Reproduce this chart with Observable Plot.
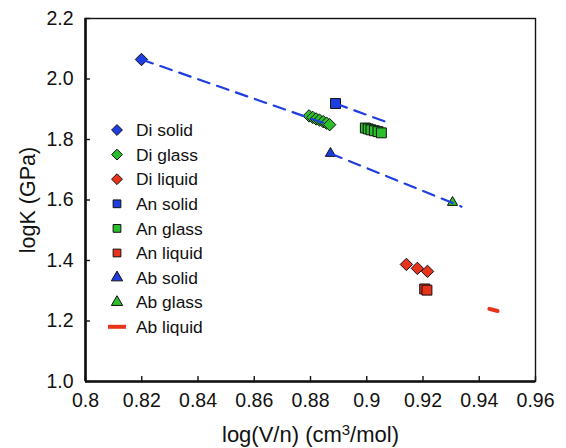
<!DOCTYPE html>
<html>
<head>
<meta charset="utf-8">
<script src="https://cdn.jsdelivr.net/npm/d3@7"></script>
<script src="https://cdn.jsdelivr.net/npm/@observablehq/plot@0.6"></script>
<style>
  body { margin: 0; background: #fff; }
  #chart { position: relative; width: 566px; height: 448px; font-family: "Liberation Sans", Arial, sans-serif; }
  #legend { position: absolute; left: 0; top: 0; pointer-events: none; }
</style>
</head>
<body>
<div id="chart"></div>
<script>
// Bulk modulus vs. molar volume, log–log, for diopside (Di), anorthite (An) and albite (Ab)
const diSolid  = [[0.8199, 2.0645]];
const diGlass  = [[0.8795, 1.878], [0.8808, 1.873], [0.8820, 1.868], [0.8832, 1.864], [0.8845, 1.859], [0.8857, 1.854], [0.8868, 1.849]];
const diLiquid = [[0.9141, 1.387], [0.9180, 1.374], [0.9216, 1.364]];
const anSolid  = [[0.8889, 1.919]];
const anGlass  = [[0.8995, 1.838], [0.9005, 1.835], [0.9015, 1.832], [0.9027, 1.829], [0.9040, 1.826], [0.9052, 1.822]];
const anLiquid = [[0.9206, 1.306], [0.9214, 1.302]];
const abSolid  = [[0.8871, 1.754]];
const abGlass  = [[0.9305, 1.592]];
const abLiquid = [[0.9436, 1.240], [0.9465, 1.233]];

// Dashed trend lines (solid → glass) for each composition
const diTrend = [[0.8199, 2.0645], [0.8870, 1.847]];
const anTrend = [[0.8889, 1.919], [0.9075, 1.856]];
const abTrend = [[0.8871, 1.754], [0.9337, 1.578]];

const xTicks = [0.8, 0.82, 0.84, 0.86, 0.88, 0.9, 0.92, 0.94, 0.96];
const yTicks = [1.0, 1.2, 1.4, 1.6, 1.8, 2.0, 2.2];
const xDomain = [0.8, 0.96];
const yDomain = [1.0, 2.2];
const xTitle = ["log(V/n) (cm", "3", "/mol)"]; // middle part is a superscript
const yTitle = "logK (GPa)";

const BLUE = "#1f3ee0", GREEN = "#2cbf2c", RED = "#e8321a";

const series = [
  { name: "Di solid",  data: diSolid,  symbol: "diamond2", fill: BLUE },
  { name: "Di glass",  data: diGlass,  symbol: "diamond2", fill: GREEN },
  { name: "Di liquid", data: diLiquid, symbol: "diamond2", fill: RED },
  { name: "An solid",  data: anSolid,  symbol: "square",   fill: BLUE },
  { name: "An glass",  data: anGlass,  symbol: "square",   fill: GREEN },
  { name: "An liquid", data: anLiquid, symbol: "square",   fill: RED },
  { name: "Ab solid",  data: abSolid,  symbol: "triangle", fill: BLUE },
  { name: "Ab glass",  data: abGlass,  symbol: "triangle", fill: GREEN },
  { name: "Ab liquid", data: abLiquid, symbol: "line",     fill: RED }
];

const markerRadius = { diamond2: 5.6, square: 5.6, triangle: 3.8 };

const pointMarks = series.filter(s => s.symbol !== "line").map(s =>
  Plot.dot(s.data, {
    x: d => d[0], y: d => d[1],
    symbol: () => s.symbol,
    r: markerRadius[s.symbol],
    fill: s.fill, stroke: "#111", strokeWidth: 1
  })
);

const trendMarks = [diTrend, anTrend, abTrend].map(t =>
  Plot.line(t, { x: d => d[0], y: d => d[1], stroke: BLUE, strokeWidth: 2.2, strokeDasharray: "12,8" })
);

const plot = Plot.plot({
  width: 566,
  height: 448,
  marginLeft: 85,
  marginRight: 31,
  marginTop: 18,
  marginBottom: 67,
  style: { fontFamily: "'Liberation Sans', Arial, sans-serif", fontSize: "19.5px", color: "#111", background: "#fff" },
  x: { domain: xDomain },
  y: { domain: yDomain },
  symbol: { type: "identity" },
  marks: [
    Plot.frame({ stroke: "#111", strokeWidth: 1.4 }),
    Plot.ruleX([xDomain[0]], { stroke: "#111", strokeWidth: 2.6 }),
    Plot.ruleY([yDomain[0]], { stroke: "#111", strokeWidth: 2.6 }),
    Plot.axisX({ ticks: xTicks, tickSize: -5, tickPadding: 17, tickFormat: d => String(+d.toFixed(2)), label: null, strokeWidth: 1.4 }),
    Plot.axisY({ ticks: yTicks, tickSize: -5, tickPadding: 17, tickFormat: d3.format(".1f"), label: null, strokeWidth: 1.4 }),
    Plot.axisX({ ticks: [], label: xTitle.join(""), labelAnchor: "center", labelArrow: "none", labelOffset: 60, fontSize: 22 }),
    Plot.axisY({ ticks: [], label: yTitle, labelAnchor: "center", labelArrow: "none", labelOffset: 66, fontSize: 21.5 }),
    ...pointMarks,
    Plot.line(abLiquid, { x: d => d[0], y: d => d[1], stroke: RED, strokeWidth: 4 }),
    ...trendMarks
  ]
});

// Set the cubic-centimetre exponent of the x-axis title as a real superscript
const xLabel = plot.querySelector('g[aria-label="x-axis label"] text');
if (xLabel) {
  xLabel.textContent = "";
  const sel = d3.select(xLabel);
  sel.append("tspan").text(xTitle[0]);
  sel.append("tspan").attr("dy", "-0.42em").attr("font-size", "0.68em").text(xTitle[1]);
  sel.append("tspan").attr("dy", "0.29em").text(xTitle[2]);
}

const chart = document.getElementById("chart");
chart.appendChild(plot);

// Legend overlay inside the plotting area
const legend = d3.select(chart).append("svg")
  .attr("id", "legend").attr("width", 566).attr("height", 448);
const symbolFor = { diamond2: d3.symbolDiamond2, square: d3.symbolSquare, triangle: d3.symbolTriangle };
const rows = legend.selectAll("g").data(series).join("g")
  .attr("transform", (d, i) => `translate(117,${130 + i * 24.6})`);
rows.each(function (d) {
  const g = d3.select(this);
  if (d.symbol === "line") {
    g.append("line").attr("x1", -9).attr("x2", 9).attr("stroke", d.fill).attr("stroke-width", 4);
  } else {
    const size = d.symbol === "diamond2" ? 75 : d.symbol === "square" ? 60 : 55;
    g.append("path").attr("d", d3.symbol(symbolFor[d.symbol], size)())
      .attr("fill", d.fill).attr("stroke", "#111").attr("stroke-width", 1);
  }
  g.append("text").attr("x", 19).attr("dy", "0.36em")
    .attr("font-family", "'Liberation Sans', Arial, sans-serif").attr("font-size", 17.4).attr("fill", "#111")
    .text(d.name);
});
</script>
</body>
</html>
